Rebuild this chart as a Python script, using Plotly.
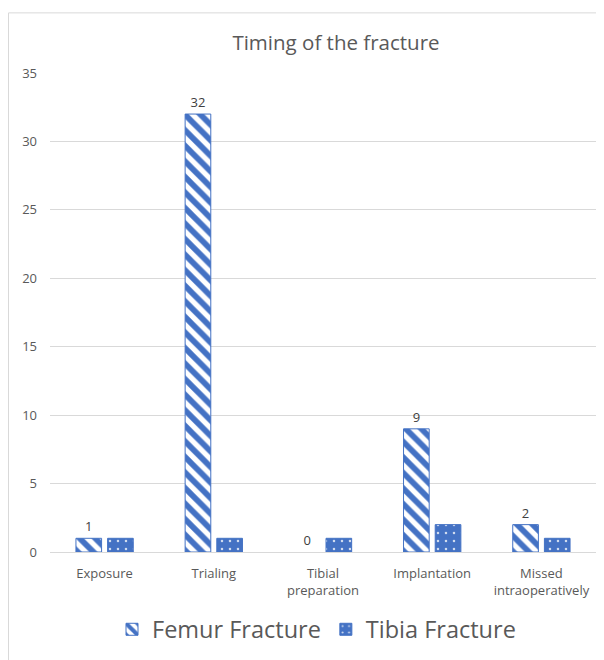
import plotly.graph_objects as go

categories = ["Exposure", "Trialing", "Tibial<br>preparation", "Implantation", "Missed<br>intraoperatively"]
femur = [1, 32, 0, 9, 2]
tibia = [1, 1, 1, 2, 1]
y_ticks = [0, 5, 10, 15, 20, 25, 30, 35]

BLUE = "#4472C4"
GREY = "#595959"
FONT = "'Open Sans', sans-serif"

# figure is offset by the page's 8px body margin; work in figure px
OFF = 8
W, H = 596, 652
L, R, T, B = 42, 8, 65, 105
pw = W - L - R
ph = H - T - B

def px_x(x):  # page px -> paper
    return (x - OFF - L) / pw

def px_y(y):
    return (H - B - (y - OFF)) / ph

fig = go.Figure()
fig.add_trace(go.Bar(
    name="Femur Fracture", x=categories, y=femur,
    text=[str(v) for v in femur], textposition="outside",
    textfont=dict(size=13, color="#404040", family=FONT),
    cliponaxis=False,
    marker=dict(color="white",
                line=dict(color=BLUE, width=[1 if v > 0 else 0 for v in femur]),
                pattern=dict(shape="\\", fgcolor=BLUE, bgcolor="white", fgopacity=1,
                             fillmode="replace", size=11, solidity=0.52)),
))
fig.add_trace(go.Bar(
    name="Tibia Fracture", x=categories, y=tibia,
    marker=dict(color=BLUE, line=dict(color=BLUE, width=1),
                pattern=dict(shape=".", fgcolor="#D0DCF0", bgcolor=BLUE, fgopacity=1,
                             fillmode="replace", size=8, solidity=0.08)),
))

fig.update_layout(
    width=W, height=H,
    margin=dict(l=L, r=R, t=T, b=B),
    paper_bgcolor="white", plot_bgcolor="white",
    font=dict(family=FONT, color=GREY, size=13),
    barmode="group", bargap=0.42, bargroupgap=0.19,
    title=dict(text="Timing of the fracture", x=px_x(336), xref="paper", xanchor="center",
               y=1 - (43 - OFF) / H, yanchor="middle", font=dict(size=20.5, color=GREY, family=FONT)),
    showlegend=True,
    legend=dict(orientation="h", x=px_x(112), xanchor="left", y=px_y(633), yanchor="middle",
                font=dict(size=23.5, color=GREY, family=FONT), itemclick=False),
    xaxis=dict(showgrid=False, showline=False, ticks="", ticklabelstandoff=12,
               tickfont=dict(size=13, color=GREY)),
    yaxis=dict(range=[0, 35], tickvals=y_ticks, showgrid=True, gridcolor="#D9D9D9", gridwidth=1,
               zeroline=True, zerolinecolor="#D9D9D9", zerolinewidth=1, showline=False, ticks="",
               ticklabelstandoff=12, tickfont=dict(size=13, color=GREY)),
    shapes=[dict(type="rect", xref="paper", yref="paper",
                 x0=px_x(8.5), x1=px_x(611), y0=px_y(670), y1=px_y(12.5),
                 line=dict(color="#D9D9D9", width=1), fillcolor="rgba(0,0,0,0)", layer="below")],
)

fig.write_html("out.html")
